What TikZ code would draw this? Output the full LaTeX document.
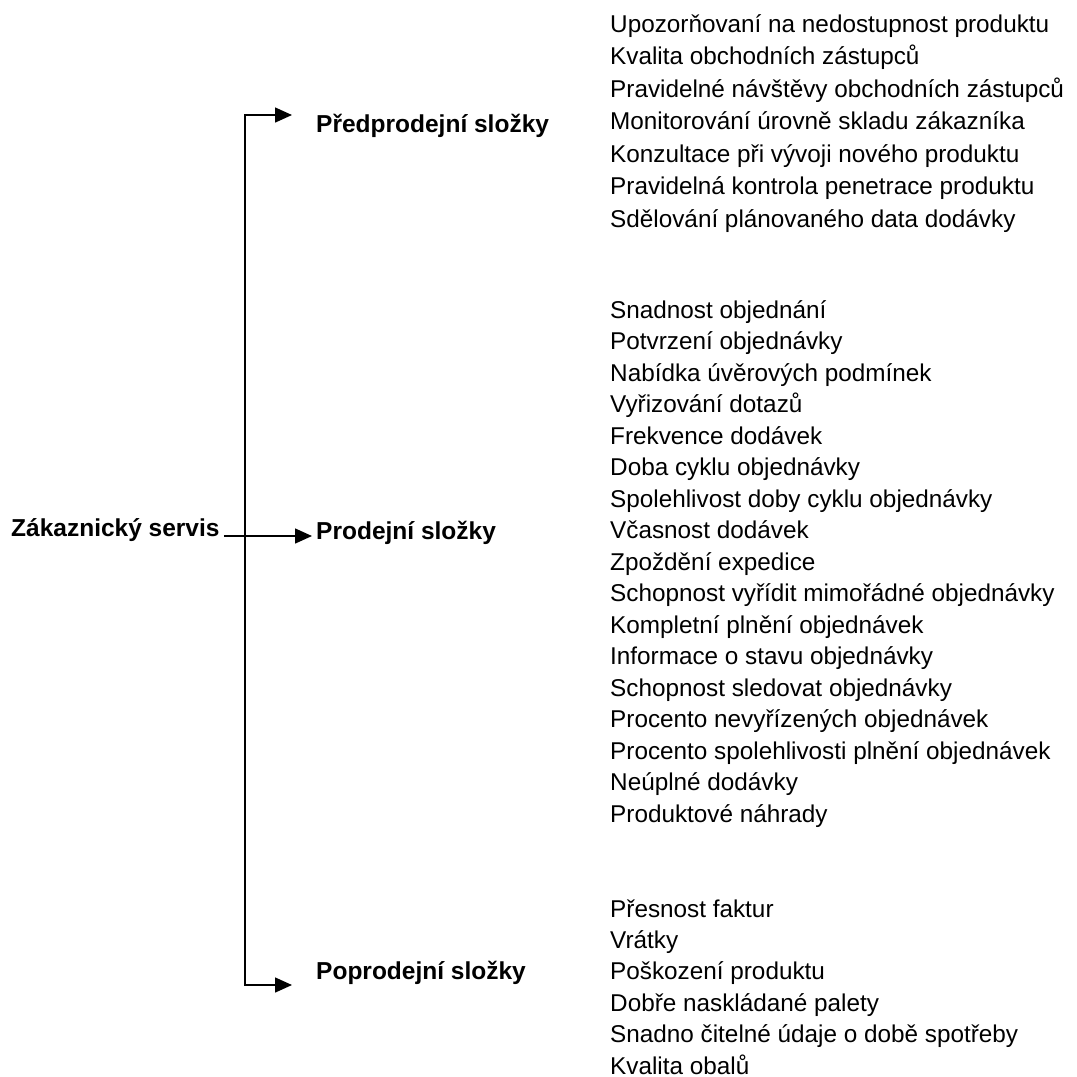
\documentclass[tikz,border=0pt]{standalone}
\usepackage{fontspec}
\setmainfont{Liberation Sans}
\usetikzlibrary{arrows.meta}

\begin{document}
\begin{tikzpicture}[x=1pt,y=-1pt,
  item/.style={anchor=base west, inner sep=0pt, font=\fontsize{24.3}{29}\selectfont},
  head/.style={anchor=base west, inner sep=0pt, font=\fontsize{24.5}{29}\selectfont\bfseries},
  plain/.style={line width=1.5pt},
  link/.style={line width=1.5pt, -{Triangle[length=17pt,width=15pt]}}]
\useasboundingbox (0,0) rectangle (1077,1077);

% root and the three groups
\node[head] (root) at (11,536) {Zákaznický servis};
\node[head] (pre)  at (316,132) {Předprodejní složky};
\node[head] (sale) at (316,539) {Prodejní složky};
\node[head] (post) at (316,979) {Poprodejní složky};

% pre-sale items
\foreach \t [count=\i] in {Upozorňovaní na nedostupnost produktu,
  Kvalita obchodních zástupců,
  Pravidelné návštěvy obchodních zástupců,
  Monitorování úrovně skladu zákazníka,
  Konzultace při vývoji nového produktu,
  Pravidelná kontrola penetrace produktu,
  Sdělování plánovaného data dodávky}
  \node[item] (pre\i) at ({610},{32+(\i-1)*32.5}) {\t};

% sale items
\foreach \t [count=\i] in {Snadnost objednání,
  Potvrzení objednávky,
  Nabídka úvěrových podmínek,
  Vyřizování dotazů,
  Frekvence dodávek,
  Doba cyklu objednávky,
  Spolehlivost doby cyklu objednávky,
  Včasnost dodávek,
  Zpoždění expedice,
  Schopnost vyřídit mimořádné objednávky,
  Kompletní plnění objednávek,
  Informace o stavu objednávky,
  Schopnost sledovat objednávky,
  Procento nevyřízených objednávek,
  Procento spolehlivosti plnění objednávek,
  Neúplné dodávky,
  Produktové náhrady}
  \node[item] (sale\i) at ({610},{318+(\i-1)*31.5}) {\t};

% post-sale items
\foreach \t [count=\i] in {Přesnost faktur,
  Vrátky,
  Poškození produktu,
  Dobře naskládané palety,
  Snadno čitelné údaje o době spotřeby,
  Kvalita obalů}
  \node[item] (post\i) at ({610},{917+(\i-1)*31.4}) {\t};

% connectors
\coordinate (hub) at (245,536);
\coordinate (top) at (245,115);
\coordinate (bot) at (245,985);
\draw[link] (hub) -- (top) -- ([xshift=-24pt]pre.west |- top);
\draw[link] (hub) -- (bot) -- ([xshift=-24pt]post.west |- bot);
\draw[link] ([xshift=4pt]root.base east) -- ([xshift=-4pt]sale.west |- root.base);
\end{tikzpicture}
\end{document}
